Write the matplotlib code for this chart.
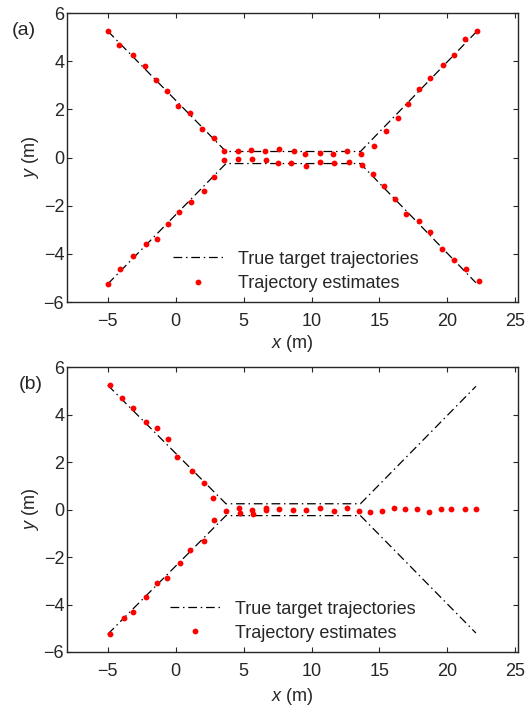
import matplotlib.pyplot as plt

plt.rcParams["font.family"] = ["Liberation Sans", "DejaVu Sans"]
plt.rcParams["mathtext.fontset"] = "custom"
plt.rcParams["mathtext.rm"] = "Liberation Sans"
plt.rcParams["mathtext.it"] = "Liberation Sans:italic"

TEXT = "#262626"

# true target trajectories (vertices)
true_x = [-5.0, 3.7, 13.6, 22.1]
true_y_upper = [5.25, 0.25, 0.25, 5.2]
true_y_lower = [-5.25, -0.25, -0.25, -5.2]

# (a) estimates
est_a_x_upper = [-4.96, -4.15, -3.17, -2.25, -1.44, -0.66, 0.19, 1.07, 1.95, 2.80, 3.54,
                 4.56, 5.56, 6.56, 7.64, 8.69, 9.54, 10.64, 11.59, 12.64, 13.62,
                 14.57, 15.45, 16.35, 17.13, 17.94, 18.70, 19.69, 20.47, 21.30, 22.18]
est_a_y_upper = [5.25, 4.69, 4.24, 3.80, 3.22, 2.76, 2.15, 1.86, 1.20, 0.80, 0.26,
                 0.26, 0.33, 0.29, 0.35, 0.29, 0.16, 0.20, 0.13, 0.26, 0.16,
                 0.46, 1.09, 1.63, 2.21, 2.85, 3.29, 3.83, 4.24, 4.92, 5.25]
est_a_x_lower = [-4.96, -4.12, -3.12, -2.20, -1.34, -0.53, 0.27, 1.10, 2.12, 2.85, 3.59,
                 4.56, 5.64, 6.68, 7.56, 8.49, 9.57, 10.64, 11.66, 12.76, 13.74,
                 14.52, 15.30, 16.15, 16.98, 17.88, 18.74, 19.60, 20.52, 21.35, 22.33]
est_a_y_lower = [-5.25, -4.64, -4.09, -3.58, -3.37, -2.78, -2.27, -1.85, -1.39, -0.79, -0.09,
                 -0.07, -0.06, -0.09, -0.24, -0.23, -0.34, -0.17, -0.23, -0.19, -0.31,
                 -0.67, -1.20, -1.74, -2.33, -2.64, -3.09, -3.78, -4.27, -4.64, -5.14]

# (b) estimates
est_b_x = [-4.81, -3.95, -3.15, -2.22, -1.34, -0.56, 0.12, 1.17, 2.07, 2.73, 3.68,
           -4.81, -3.83, -3.15, -2.17, -1.39, -0.61, 0.29, 1.02, 2.05, 2.80,
           4.69, 4.71, 5.64, 5.66, 6.68, 6.68, 7.64, 8.64, 9.59, 10.64, 11.66, 12.59,
           13.47, 14.32, 15.18, 16.06, 16.91, 17.79, 18.62, 19.50, 20.28, 21.28, 22.11]
est_b_y = [5.27, 4.71, 4.29, 3.69, 3.43, 2.99, 2.21, 1.62, 1.13, 0.49, -0.07,
           -5.26, -4.55, -4.31, -3.69, -3.09, -2.86, -2.23, -1.69, -1.32, -0.42,
           0.06, -0.16, -0.03, -0.20, 0.08, -0.03, 0.04, -0.01, -0.03, 0.06, -0.04, 0.07,
           -0.07, -0.08, -0.05, 0.07, 0.04, 0.04, -0.08, 0.03, 0.04, 0.03, 0.03]

x_ticks = [-5, 0, 5, 10, 15, 20, 25]
y_ticks = [-6, -4, -2, 0, 2, 4, 6]

dashdot = (0, (7, 3, 1.2, 3))


def draw_panel(ax, est_sets, tag, xlab_y, legend_anchor):
    ax.plot(true_x, true_y_upper, color="black", lw=0.9, ls=dashdot,
            label="True target trajectories")
    ax.plot(true_x, true_y_lower, color="black", lw=0.9, ls=dashdot)
    for i, (ex, ey) in enumerate(est_sets):
        ax.plot(ex, ey, ls="none", marker="o", ms=4.2, mfc="red", mec="red", mew=0,
                label="Trajectory estimates" if i == 0 else None)

    ax.set_xlim(-8, 25.2)
    ax.set_ylim(-6, 6)
    ax.set_xticks(x_ticks)
    ax.set_yticks(y_ticks)
    ax.tick_params(direction="in", length=3.6, width=0.8, top=True, right=True,
                   labelsize=13, colors=TEXT)
    ax.tick_params(axis="x", pad=8)
    ax.tick_params(axis="y", pad=2)
    for s in ax.spines.values():
        s.set_linewidth(1.0)
        s.set_color(TEXT)

    ax.set_xlabel("$x$ (m)", fontsize=13, color=TEXT)
    ax.set_ylabel("$y$ (m)", fontsize=13, color=TEXT)
    ax.xaxis.set_label_coords(0.5, xlab_y)
    ax.xaxis.label.set_va("center")
    ax.yaxis.set_label_coords(-0.082, 0.5)
    ax.yaxis.label.set_va("center")

    ax.legend(loc="lower left", bbox_to_anchor=legend_anchor, frameon=False,
              fontsize=13, labelcolor=TEXT, handlelength=2.8, handletextpad=0.8,
              labelspacing=0.4, borderpad=0, borderaxespad=0, numpoints=1)
    ax.text(-0.095, 0.94, tag, transform=ax.transAxes, fontsize=14, color=TEXT,
            ha="center", va="center")


fig = plt.figure(figsize=(5.26, 7.08), dpi=100)
ax_a = fig.add_axes([0.1274, 0.5734, 0.8574, 0.4082])
ax_b = fig.add_axes([0.1274, 0.0791, 0.8574, 0.4020])

draw_panel(ax_a, [(est_a_x_upper, est_a_y_upper), (est_a_x_lower, est_a_y_lower)],
           "(a)", -0.142, (0.235, 0.035))
draw_panel(ax_b, [(est_b_x, est_b_y)], "(b)", -0.157, (0.228, 0.036))
ax_b.texts[0].set_position((-0.080, 0.94))

fig.savefig("out.png", dpi=100)
plt.close(fig)
